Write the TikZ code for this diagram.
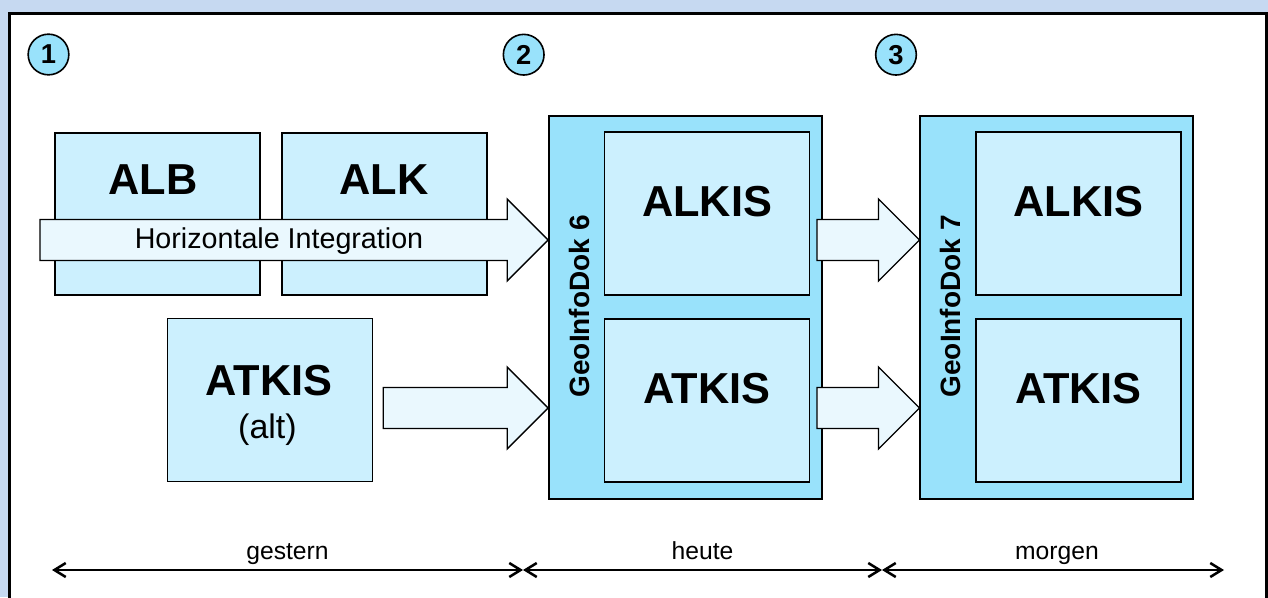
\documentclass[tikz,border=0pt]{standalone}
\usepackage{fontspec}
\setmainfont{Liberation Sans}
\usetikzlibrary{calc,arrows.meta}

\definecolor{slidebg}{HTML}{C6D9F1}
\definecolor{boxblue}{HTML}{CCF0FE}
\definecolor{dokblue}{HTML}{99E2FB}
\definecolor{arrowblue}{HTML}{EAF8FE}

\tikzset{
  box/.style={draw=black, fill=boxblue, line width=1.1pt, inner sep=0pt,
    minimum width=153.75pt, minimum height=122.25pt},
  dok/.style={draw=black, fill=dokblue, line width=1.1pt, inner sep=0pt,
    minimum width=204.75pt, minimum height=287.25pt},
  big/.style={font=\bfseries\fontsize{32.5}{37}\selectfont, inner sep=0pt},
  doklabel/.style={font=\bfseries\fontsize{21}{25}\selectfont, rotate=90, inner sep=0pt},
  num/.style={circle, draw=black, fill=dokblue, line width=1.2pt, minimum size=30.5pt,
    inner sep=0pt, font=\bfseries\fontsize{20.5}{24}\selectfont},
  barrow/.style={draw=black, fill=arrowblue, line width=1pt, line join=miter},
  span/.style={>={Straight Barb[length=8.5pt,width=10.5pt]}, <->, line width=1.9pt},
  when/.style={font=\fontsize{18.5}{22}\selectfont, anchor=base, yshift=8.25pt}
}

% block arrow from #1 to the tip #2 (same height)
\newcommand{\blockarrow}[2]{%
  \draw[barrow] ($(#1)+(0,-20.5)$) -- ($(#2)+(-41,-20.5)$) -- ($(#2)+(-41,-41)$) -- (#2)
    -- ($(#2)+(-41,41)$) -- ($(#2)+(-41,20.5)$) -- ($(#1)+(0,20.5)$) -- cycle;}

\begin{document}
\begin{tikzpicture}[x=0.75pt,y=-0.75pt]

% slide and frame
\fill[slidebg] (0,0) rectangle (1268,597);
\useasboundingbox (0,0) rectangle (1268,597);
\fill[white] (9.5,13.5) rectangle (1266,600);
\draw[line width=2.25pt] (9.5,600) -- (9.5,13.5) -- (1266,13.5) -- (1266,600);

% gestern
\node[box, minimum height=121.5pt] (alb) at (157.5,214) {};
\node[box, minimum height=121.5pt] (alk) at (384.5,214) {};
\node[big] (alb-t) at (153,180) {ALB};
\node[big] (alk-t) at (384,180) {ALK};
\node[box] (atkalt) at (270,400) {};
\node[big] (atkalt-t) at (269,381) {ATKIS};
\node[font=\fontsize{25.5}{30}\selectfont, inner sep=0pt] (atkalt-s) at (267.5,430) {(alt)};

% heute, morgen
\node[dok] (g6) at (685.4,307.4) {};
\node[dok] (g7) at (1056.7,307.4) {};
\foreach \d/\v in {g6/6,g7/7} {
  \node[box] (\d-alkis) at ($(\d.center)+(21.7,-93.9)$) {};
  \node[box] (\d-atkis) at ($(\d.center)+(21.7,93.1)$) {};
  \node[big] at ($(\d-alkis.center)+(0,-11.5)$) {ALKIS};
  \node[big] at ($(\d-atkis.center)+(0,-11.5)$) {ATKIS};
  \node[doklabel] (\d-t) at ($(\d.west)+(31.5,-1)$) {GeoInfoDok \v};
}

% arrows
\coordinate (hi) at (40,240);
\coordinate (altout) at (383.3,408);
\coordinate (up) at (817,240);
\coordinate (low) at (817,408);
\coordinate (hi-tip) at (g6.west |- hi);
\coordinate (alt-tip) at (g6.west |- altout);
\coordinate (up-tip) at (g7.west |- up);
\coordinate (low-tip) at (g7.west |- low);
\blockarrow{hi}{hi-tip}
\blockarrow{altout}{alt-tip}
\blockarrow{up}{up-tip}
\blockarrow{low}{low-tip}
\node[font=\fontsize{21.5}{26}\selectfont, inner sep=0pt] (hi-t) at (279,241) {Horizontale Integration};

% steps
\node[num] (n1) at (48.5,54.5) {1};
\node[num] (n2) at (523.7,54.7) {2};
\node[num] (n3) at (896,54.7) {3};

% time line
\coordinate (t0) at (52,570);
\coordinate (t1) at (523,570);
\coordinate (t2) at (882,570);
\coordinate (t3) at (1224,570);
\draw[span] (t0) -- node[when] {gestern} (t1);
\draw[span] (t1) -- node[when] {heute} (t2);
\draw[span] (t2) -- node[when, xshift=3pt] {morgen} (t3);

\end{tikzpicture}
\end{document}
